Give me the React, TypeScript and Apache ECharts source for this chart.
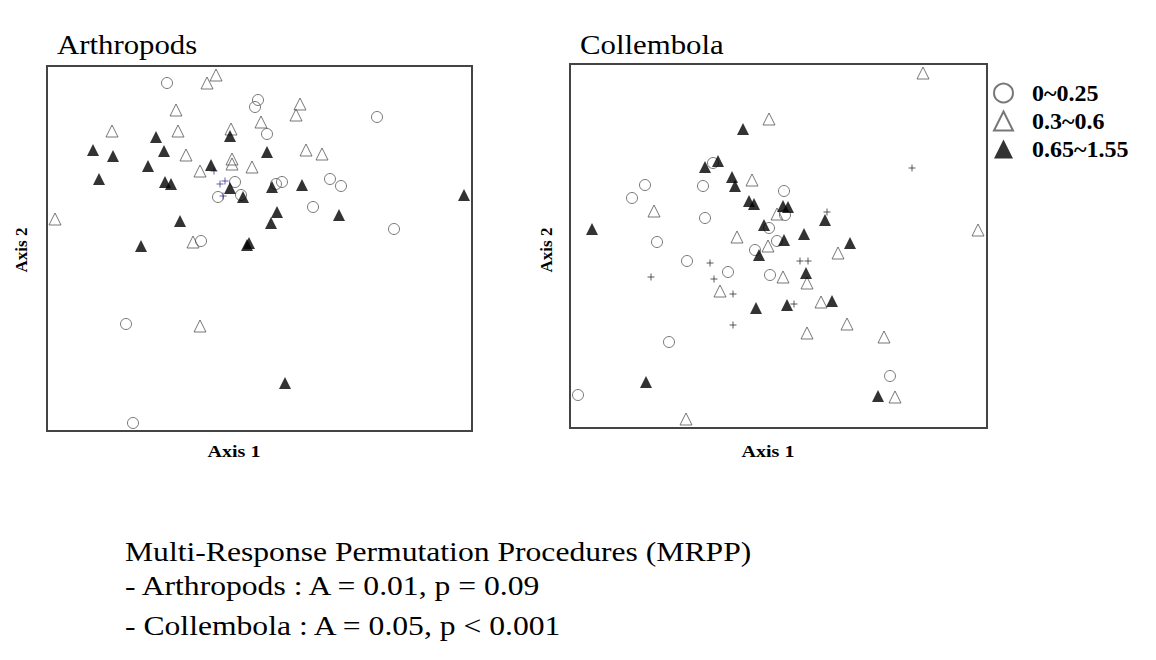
import React, { useEffect, useRef } from "react";
import * as echarts from "echarts";

// Ordination scores (arbitrary NMS units)
const arthCircles: [number, number][] = [
  [120, 348], [211, 331], [208, 324], [220, 297], [330, 314], [188, 249], [171, 234],
  [194, 236], [229, 247], [235, 249], [283, 252], [294, 245], [266, 224], [347, 202],
  [154, 190], [79, 107], [86, 8],
];
const arthOpenTri: [number, number][] = [
  [169, 356], [160, 348], [129, 321], [65, 300], [131, 300], [184, 302], [139, 276],
  [185, 272], [185, 267], [153, 260], [205, 264], [253, 327], [249, 316], [214, 309],
  [259, 281], [275, 277], [8, 212], [146, 189], [153, 105],
];
const arthFilledTri: [number, number][] = [
  [109, 294], [46, 281], [66, 275], [117, 280], [101, 265], [52, 252], [118, 249],
  [124, 247], [164, 266], [183, 295], [183, 243], [196, 234], [133, 210], [220, 279],
  [225, 244], [255, 246], [230, 219], [224, 208], [292, 216], [417, 236], [94, 185],
  [200, 186], [202, 188], [238, 48],
];
const arthOther: [number, number][] = [[167, 260], [173, 247], [178, 250], [176, 235]];

const collCircles: [number, number][] = [
  [75, 245], [62, 232], [133, 244], [143, 267], [135, 212], [87, 188], [214, 239],
  [215, 215], [207, 189], [199, 202], [185, 180], [117, 169], [158, 158], [200, 155],
  [99, 88], [8, 35], [320, 54],
];
const collOpenTri: [number, number][] = [
  [353, 357], [199, 311], [182, 250], [84, 219], [167, 193], [198, 184], [207, 216],
  [408, 200], [213, 153], [237, 147], [150, 139], [268, 177], [251, 128], [237, 97],
  [277, 106], [314, 93], [325, 33], [116, 11],
];
const collFilledTri: [number, number][] = [
  [173, 301], [148, 269], [135, 263], [162, 253], [165, 244], [179, 229], [184, 226],
  [194, 205], [22, 201], [213, 224], [218, 223], [255, 210], [234, 196], [280, 187],
  [214, 190], [189, 175], [236, 157], [262, 129], [186, 122], [217, 125], [76, 48],
  [308, 34],
];
const collOther: [number, number][] = [
  [342, 262], [257, 218], [140, 167], [81, 153], [144, 151], [163, 136], [163, 105],
  [230, 169], [238, 169], [224, 126],
];

const groupNames = ["0~0.25", "0.3~0.6", "0.65~1.55"];
const panelTitles = ["Arthropods", "Collembola"];
const xAxisName = "Axis 1";
const yAxisName = "Axis 2";
const noteLines = [
  "Multi-Response Permutation Procedures (MRPP)",
  "- Arthropods : A = 0.01, p = 0.09",
  "- Collembola : A = 0.05, p < 0.001",
];

const SERIF = "'Liberation Serif', 'Times New Roman', serif";
const PLUS = "path://M0,5L10,5M5,0L5,10";

function txt(
  text: string,
  x: number,
  y: number,
  size: number,
  opts: { bold?: boolean; align?: string; scaleX?: number; rotation?: number } = {}
) {
  const align = opts.align || "left";
  return {
    type: "text",
    x,
    y,
    scaleX: opts.scaleX ?? 1,
    rotation: opts.rotation ?? 0,
    silent: true,
    style: {
      text,
      fill: "#000",
      fontSize: size,
      fontFamily: SERIF,
      fontWeight: opts.bold ? "bold" : "normal",
      align,
      textAlign: align,
      verticalAlign: "middle",
      textVerticalAlign: "middle",
    },
  };
}

function groupSeries(idx: number, circles: any, open: any, filled: any, other: any, otherColor: string) {
  return [
    {
      type: "scatter",
      name: groupNames[0],
      xAxisIndex: idx,
      yAxisIndex: idx,
      data: circles,
      symbol: "circle",
      symbolSize: 11,
      itemStyle: { color: "rgba(255,255,255,0)", borderColor: "#555", borderWidth: 1 },
    },
    {
      type: "scatter",
      name: groupNames[1],
      xAxisIndex: idx,
      yAxisIndex: idx,
      data: open,
      symbol: "triangle",
      symbolSize: 12,
      itemStyle: { color: "rgba(255,255,255,0)", borderColor: "#555", borderWidth: 1 },
    },
    {
      type: "scatter",
      name: "other",
      xAxisIndex: idx,
      yAxisIndex: idx,
      data: other,
      symbol: PLUS,
      symbolSize: 7,
      itemStyle: { color: "rgba(0,0,0,0)", borderColor: otherColor, borderWidth: 1 },
    },
    {
      type: "scatter",
      name: groupNames[2],
      xAxisIndex: idx,
      yAxisIndex: idx,
      data: filled,
      symbol: "triangle",
      symbolSize: 12,
      itemStyle: { color: "#000", borderColor: "#000", borderWidth: 0 },
    },
  ];
}

export default function App() {
  const ref = useRef<HTMLDivElement>(null);
  useEffect(() => {
    if (!ref.current) return;
    const chart = echarts.init(ref.current, null, { renderer: "svg" });
    const hiddenAxis = {
      type: "value",
      show: false,
      splitLine: { show: false },
    };
    chart.setOption({
      animation: false,
      backgroundColor: "#fff",
      grid: [
        { left: 47, top: 66, width: 425, height: 365, show: true, borderColor: "#444", borderWidth: 2, backgroundColor: "transparent" },
        { left: 570, top: 64, width: 417, height: 364, show: true, borderColor: "#444", borderWidth: 2, backgroundColor: "transparent" },
      ],
      xAxis: [
        { ...hiddenAxis, gridIndex: 0, min: 0, max: 425 },
        { ...hiddenAxis, gridIndex: 1, min: 0, max: 417 },
      ],
      yAxis: [
        { ...hiddenAxis, gridIndex: 0, min: 0, max: 365 },
        { ...hiddenAxis, gridIndex: 1, min: 2, max: 366 },
      ],
      legend: {
        data: groupNames.map((n, i) => ({ name: n, icon: i === 0 ? "circle" : "triangle" })),
        orient: "vertical",
        left: 993,
        top: 81,
        padding: 0,
        itemWidth: 19,
        itemHeight: 19,
        itemGap: 4,
        selectedMode: false,
        textStyle: {
          fontFamily: SERIF,
          fontWeight: "bold",
          fontSize: 24,
          lineHeight: 19,
          color: "#000",
          padding: [0, 0, 0, 14],
        },
      },
      series: [
        ...groupSeries(0, arthCircles, arthOpenTri, arthFilledTri, arthOther, "#3b3b8f"),
        ...groupSeries(1, collCircles, collOpenTri, collFilledTri, collOther, "#333"),
      ],
      graphic: [
        txt(panelTitles[0], 57, 44, 28, { scaleX: 1.1 }),
        txt(panelTitles[1], 580, 44, 28, { scaleX: 1.1 }),
        txt(xAxisName, 234, 451, 17, { bold: true, align: "center", scaleX: 1.18 }),
        txt(xAxisName, 768, 451, 17, { bold: true, align: "center", scaleX: 1.18 }),
        txt(yAxisName, 21, 250, 17, { bold: true, align: "center", rotation: Math.PI / 2 }),
        txt(yAxisName, 546, 250, 17, { bold: true, align: "center", rotation: Math.PI / 2 }),
        txt(noteLines[0], 125, 551, 28, { scaleX: 1.13 }),
        txt(noteLines[1], 125, 585, 28, { scaleX: 1.13 }),
        txt(noteLines[2], 125, 625, 28, { scaleX: 1.13 }),
      ],
    });
    return () => chart.dispose();
  }, []);
  return (
    <div
      ref={ref}
      style={{ position: "absolute", left: 0, top: 0, width: 1156, height: 660, background: "#fff" }}
    />
  );
}
